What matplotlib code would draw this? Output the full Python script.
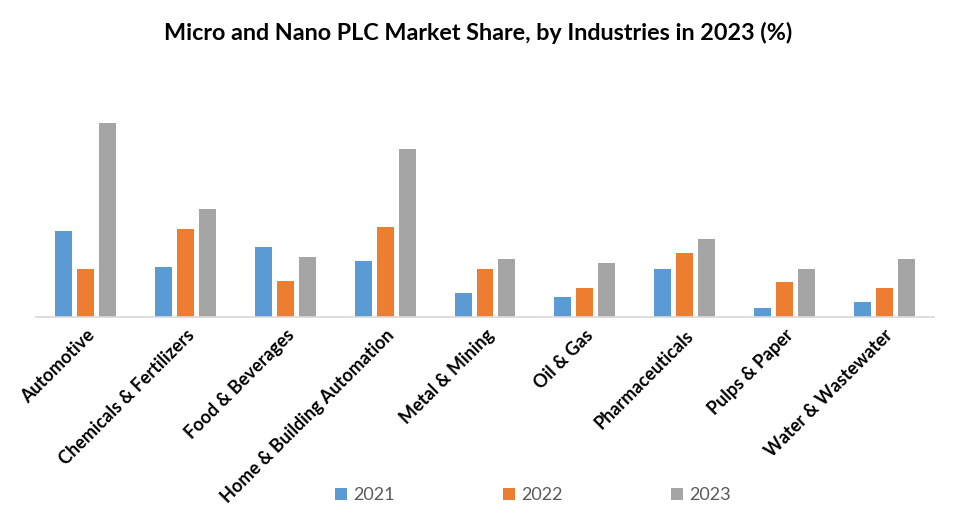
import matplotlib.pyplot as plt
import numpy as np

# values (relative units)
industries = ["Automotive", "Chemicals & Fertilizers", "Food & Beverages",
              "Home & Building Automation", "Metal & Mining", "Oil & Gas",
              "Pharmaceuticals", "Pulps & Paper", "Water & Wastewater"]
years = ["2021", "2022", "2023"]
share_2021 = [86, 50, 70, 56, 24, 20, 48, 9, 15]
share_2022 = [48, 88, 36, 90, 48, 29, 64, 35, 29]
share_2023 = [194, 108, 60, 168, 58, 54, 78, 48, 58]

colors = ["#5B9BD5", "#ED7D31", "#A5A5A5"]

plt.rcParams["font.family"] = ["Lato", "DejaVu Sans"]

fig = plt.figure(figsize=(9.57, 5.25), dpi=100)
ax = fig.add_axes([36 / 957, 1 - 317 / 525, 898 / 957, 210 / 525])

x = np.arange(len(industries))
width = 0.17
step = 0.22
for k, (vals, yr) in enumerate(zip([share_2021, share_2022, share_2023], years)):
    ax.bar(x + (k - 1) * step, vals, width, color=colors[k], label=yr, zorder=2)

ax.set_xlim(-0.5, len(industries) - 0.5)
ax.set_ylim(0, 210)
ax.set_yticks([])
for s in ["top", "right", "left"]:
    ax.spines[s].set_visible(False)
ax.spines["bottom"].set_color("#D9D9D9")
ax.spines["bottom"].set_linewidth(1.2)

ax.set_xticks(x)
ax.set_xticklabels(industries, rotation=45, ha="right", rotation_mode="anchor",
                   fontsize=13, fontweight="bold", color="black")
ax.tick_params(axis="x", length=0, pad=7)

fig.text(0.5, 1 - 33 / 525, "Micro and Nano PLC Market Share, by Industries in 2023 (%)",
         ha="center", va="center", fontsize=16.8, fontweight="bold", color="black")

leg = fig.legend(loc="center", bbox_to_anchor=(533 / 957, 1 - 495 / 525), ncol=3,
                 frameon=False, fontsize=13, handlelength=0.65, handleheight=0.65,
                 handletextpad=0.35, columnspacing=6.0)
for t in leg.get_texts():
    t.set_color("#595959")

fig.savefig("out.png", dpi=100)
